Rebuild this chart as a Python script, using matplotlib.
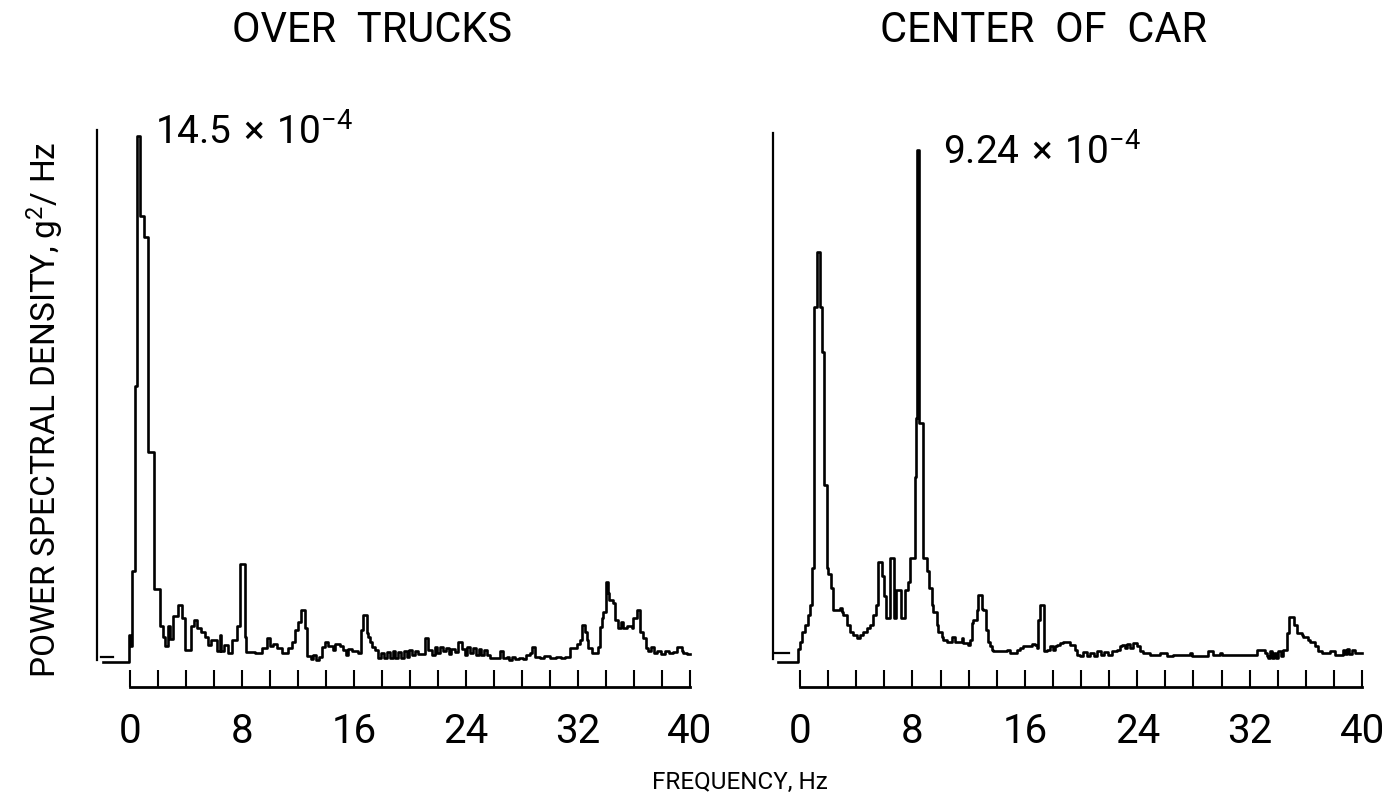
import numpy as np
import matplotlib
matplotlib.use("Agg")
import matplotlib.pyplot as plt

plt.rcParams["font.family"] = ["Roboto", "DejaVu Sans"]
plt.rcParams["mathtext.fontset"] = "custom"
plt.rcParams["mathtext.rm"] = "Roboto"
plt.rcParams["mathtext.it"] = "Roboto"

# PSD traces, values in units of 1e-4 g^2/Hz.
# each value holds from its frequency to the next one (step trace)
left_freq = [-1.9, -0.1, 0.0, 0.12, 0.38, 0.48, 0.72, 0.97, 1.28, 1.72,
             2.15, 2.39, 2.53, 2.72, 2.89, 3.09, 3.43, 3.71, 3.93, 4.35,
             4.55, 4.78, 5.06, 5.34, 5.56, 5.76, 6.24, 6.4, 6.52, 6.74,
             7.02, 7.3, 7.64, 7.87, 8.2, 8.29, 8.93, 9.4, 9.76, 9.99,
             10.24, 10.48, 10.83, 11.31, 11.55, 11.79, 12.02, 12.2, 12.5, 12.62,
             12.9, 13.1, 13.3, 13.5, 13.69, 13.93, 14.17, 14.52, 14.64, 15.0,
             15.24, 15.45, 15.6, 15.83, 16.31, 16.5, 16.67, 16.9, 16.98, 17.14,
             17.31, 17.5, 17.74, 17.95, 18.15, 18.35, 18.55, 18.75, 18.95, 19.15,
             19.35, 19.55, 19.75, 19.95, 20.15, 20.35, 20.6, 21.07, 21.31, 21.55,
             21.75, 21.95, 22.15, 22.35, 22.55, 22.75, 22.95, 23.2, 23.45, 23.69,
             23.9, 24.1, 24.3, 24.5, 24.7, 24.9, 25.1, 25.3, 25.5, 25.71,
             26.43, 26.67, 26.9, 27.1, 27.3, 27.5, 27.8, 28.1, 28.3, 28.57,
             28.69, 28.93, 29.3, 29.6, 30.0, 30.4, 30.8, 31.1, 31.43, 31.9,
             32.14, 32.31, 32.5, 32.62, 32.74, 32.98, 33.45, 33.57, 33.69, 33.81,
             34.0, 34.17, 34.24, 34.52, 34.64, 34.88, 35.05, 35.24, 35.5, 35.83,
             35.95, 36.19, 36.43, 36.67, 36.83, 37.0, 37.2, 37.4, 37.62, 37.9,
             38.2, 38.5, 38.8, 39.05, 39.4, 39.52, 39.75, 40.0]
left_psd = [0.0, 0.75, 0.45, 2.5, 7.6, 14.5, 12.3, 11.7, 5.8, 2.0,
            1.0, 0.7, 0.45, 0.98, 0.64, 1.27, 1.58, 1.22, 0.33, 1.0,
            1.16, 0.93, 0.82, 0.69, 0.46, 0.6, 0.29, 0.75, 0.29, 0.46,
            0.24, 0.6, 0.98, 2.7, 0.7, 0.28, 0.24, 0.38, 0.65, 0.44,
            0.5, 0.38, 0.24, 0.38, 0.56, 0.88, 1.11, 1.43, 0.93, 0.16,
            0.08, 0.2, 0.06, 0.15, 0.41, 0.56, 0.44, 0.33, 0.5, 0.45,
            0.33, 0.2, 0.35, 0.3, 0.25, 0.88, 1.29, 0.79, 0.7, 0.55,
            0.41, 0.33, 0.1, 0.25, 0.12, 0.28, 0.1, 0.3, 0.12, 0.27,
            0.1, 0.3, 0.15, 0.32, 0.18, 0.3, 0.22, 0.65, 0.33, 0.2,
            0.4, 0.25, 0.42, 0.3, 0.38, 0.22, 0.35, 0.28, 0.56, 0.35,
            0.2, 0.4, 0.25, 0.38, 0.2, 0.35, 0.18, 0.32, 0.2, 0.1,
            0.31, 0.1, 0.15, 0.06, 0.14, 0.07, 0.12, 0.08, 0.2, 0.25,
            0.4, 0.15, 0.1, 0.16, 0.1, 0.15, 0.1, 0.15, 0.38, 0.51,
            0.6, 1.02, 0.84, 0.6, 0.38, 0.24, 0.42, 0.97, 1.2, 1.39,
            2.21, 1.9, 1.71, 1.62, 1.16, 0.95, 1.1, 0.93, 1.0, 0.93,
            1.2, 1.43, 0.84, 0.65, 0.38, 0.29, 0.42, 0.25, 0.3, 0.22,
            0.3, 0.25, 0.28, 0.4, 0.3, 0.25, 0.22, 0.22]

right_freq = [-1.6, -0.15, 0.0, 0.12, 0.36, 0.59, 0.71, 0.83, 0.99, 1.19,
              1.45, 1.54, 1.72, 1.9, 2.02, 2.18, 2.33, 2.85, 2.97, 3.08,
              3.32, 3.56, 3.8, 4.03, 4.27, 4.51, 4.74, 4.98, 5.22, 5.41,
              5.58, 5.85, 5.95, 6.1, 6.4, 6.66, 6.8, 7.2, 7.47, 7.65,
              7.83, 8.19, 8.28, 8.33, 8.45, 8.78, 9.02, 9.2, 9.37, 9.49,
              9.73, 9.84, 10.08, 10.2, 10.44, 10.8, 11.03, 11.51, 11.63, 11.98,
              12.1, 12.22, 12.34, 12.57, 12.69, 12.93, 13.05, 13.24, 13.41, 13.52,
              13.64, 13.76, 14.71, 14.95, 15.42, 15.66, 15.9, 16.49, 16.73, 16.85,
              16.96, 17.08, 17.37, 17.56, 17.79, 18.03, 18.15, 18.27, 18.5, 18.74,
              19.22, 19.57, 19.69, 19.93, 20.15, 20.4, 20.65, 20.9, 21.15, 21.4,
              21.65, 21.9, 22.2, 22.54, 22.77, 22.89, 23.1, 23.3, 23.5, 23.72,
              23.96, 24.2, 24.43, 24.91, 25.62, 26.1, 26.57, 27.76, 27.88, 29.06,
              29.42, 29.89, 30.01, 32.5, 33.1, 33.21, 33.33, 33.45, 33.6, 33.75,
              33.9, 34.05, 34.2, 34.4, 34.68, 34.83, 35.16, 35.35, 35.71, 35.82,
              36.18, 36.3, 36.65, 36.89, 37.13, 37.72, 38.08, 38.67, 38.8, 38.95,
              39.1, 39.25, 39.5, 40.0]
right_psd = [0.0, 0.24, 0.36, 0.55, 0.67, 0.85, 1.03, 1.7, 6.4, 7.4,
             6.4, 5.6, 3.2, 1.7, 1.58, 1.34, 0.93, 0.97, 0.9, 0.85,
             0.67, 0.55, 0.49, 0.43, 0.49, 0.55, 0.61, 0.67, 0.85, 1.03,
             1.8, 1.55, 1.2, 0.8, 1.88, 0.8, 1.3, 0.8, 1.3, 1.45,
             1.88, 3.34, 4.4, 9.24, 4.32, 1.88, 1.64, 1.34, 1.03, 0.9,
             0.67, 0.55, 0.45, 0.4, 0.37, 0.46, 0.37, 0.43, 0.34, 0.31,
             0.4, 0.7, 0.76, 0.94, 1.21, 0.96, 0.94, 0.58, 0.37, 0.28,
             0.22, 0.19, 0.22, 0.16, 0.22, 0.25, 0.28, 0.33, 0.31, 0.25,
             0.76, 1.03, 0.19, 0.22, 0.28, 0.22, 0.28, 0.31, 0.34, 0.37,
             0.31, 0.22, 0.13, 0.1, 0.18, 0.1, 0.17, 0.11, 0.19, 0.12,
             0.18, 0.13, 0.2, 0.22, 0.28, 0.3, 0.25, 0.33, 0.26, 0.34,
             0.28, 0.19, 0.16, 0.13, 0.16, 0.1, 0.13, 0.17, 0.11, 0.19,
             0.13, 0.16, 0.13, 0.22, 0.16, 0.1, 0.07, 0.19, 0.08, 0.17,
             0.07, 0.19, 0.1, 0.22, 0.52, 0.82, 0.67, 0.52, 0.49, 0.46,
             0.4, 0.37, 0.28, 0.19, 0.16, 0.19, 0.13, 0.22, 0.14, 0.24,
             0.15, 0.22, 0.16, 0.16]

# full-scale calibration stroke drawn by the plotter before each trace
left_cal = {"x": -2.35, "top": 14.66, "foot": (-2.1, -1.2, 0.15)}
right_cal = {"x": -1.9, "top": 9.55, "foot": (-1.75, -0.8, 0.16)}

titles = ["OVER  TRUCKS", "CENTER  OF  CAR"]
peaks = ["14.5", "9.24"]

W, H = 1392, 807


def px_box(x0, x1, y_top, y_bot):
    return [x0 / W, 1 - y_bot / H, (x1 - x0) / W, (y_bot - y_top) / H]


def draw_panel(ax, freq, psd, cal, ylim, note, note_pos):
    ax.step(freq, psd, where="post", color="black", lw=1.9)
    ax.plot([cal["x"], cal["x"]], [0.05, cal["top"]], color="black", lw=1.6)
    f0, f1, fy = cal["foot"]
    ax.plot([f0, f1], [fy, fy], color="black", lw=1.6)

    ax.text(note_pos[0], note_pos[1], note + r"$\,\times\,$10$^{-4}$",
            fontsize=28, ha="left", va="baseline")

    ax.set_xlim(-2.6, 40.4)
    ax.set_ylim(*ylim)
    ax.set_xticks([0, 8, 16, 24, 32, 40])
    ax.set_xticks(np.arange(0, 41, 2), minor=True)
    ax.tick_params(axis="x", which="both", direction="in", length=12,
                   width=1.5, pad=18, labelsize=29)
    ax.set_yticks([])
    for side in ["left", "right", "top"]:
        ax.spines[side].set_visible(False)
    ax.spines["bottom"].set_position(("outward", 14))
    ax.spines["bottom"].set_bounds(0, 40)
    ax.spines["bottom"].set_linewidth(2)
    ax.patch.set_alpha(0)


fig = plt.figure(figsize=(W / 100, H / 100), dpi=100)

ax_l = fig.add_axes(px_box(93.6, 695.6, 125, 668))
ax_r = fig.add_axes(px_box(763.5, 1367.7, 125, 668))

draw_panel(ax_l, left_freq, left_psd, left_cal, (-0.165, 14.80), peaks[0], (1.8, 14.25))
draw_panel(ax_r, right_freq, right_psd, right_cal, (-0.108, 9.69), peaks[1], (10.2, 8.97))

fig.text(372 / W, 1 - 30 / H, titles[0], fontsize=30, ha="center", va="center")
fig.text(1043 / W, 1 - 30 / H, titles[1], fontsize=30, ha="center", va="center")

fig.text(45 / W, 1 - 410 / H, r"POWER SPECTRAL DENSITY, g$^2$/ Hz",
         fontsize=24, rotation=90, ha="center", va="center")
fig.text(740 / W, 1 - 782 / H, "FREQUENCY, Hz", fontsize=17.5,
         ha="center", va="center")

fig.savefig("out.png", dpi=100, facecolor="white")
